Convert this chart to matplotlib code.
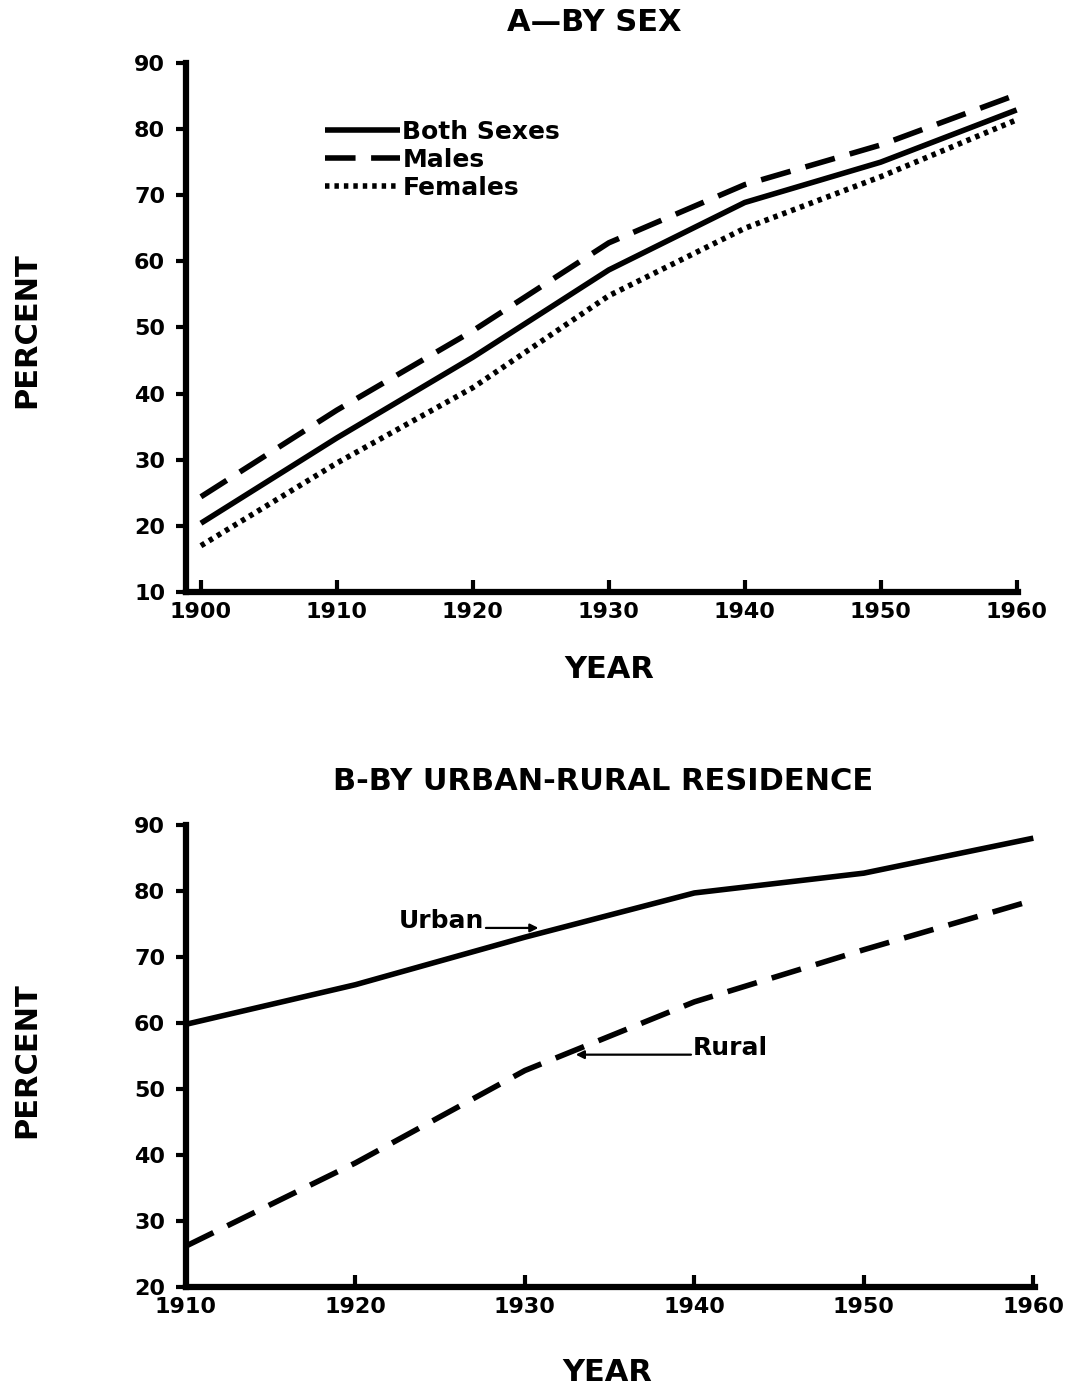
import matplotlib.pyplot as plt

plt.rcParams["font.family"] = ["DejaVu Sans"]

# Panel A - by sex
years_a = [1900, 1910, 1920, 1930, 1940, 1950, 1960]
both_sexes = [20.4, 33.3, 45.5, 58.7, 68.9, 75.0, 82.9]
males = [24.4, 37.5, 49.5, 62.8, 71.6, 77.6, 85.2]
females = [17.0, 29.5, 40.9, 54.8, 65.0, 72.8, 81.4]
yticks_a = [10, 20, 30, 40, 50, 60, 70, 80, 90]

# Panel B - by urban-rural residence
years_b = [1910, 1920, 1930, 1940, 1950, 1960]
urban = [59.8, 65.8, 73.0, 79.7, 82.7, 88.0]
rural = [26.2, 38.8, 52.8, 63.2, 71.1, 78.6]
yticks_b = [20, 30, 40, 50, 60, 70, 80, 90]

LW = 4.0
DASH = (5.5, 2.8)
DOT = (0.8, 0.9)

fig = plt.figure(figsize=(10.7, 13.9), dpi=100)
ax1 = fig.add_axes([0.1738, 0.5741, 0.7776, 0.3806])
ax2 = fig.add_axes([0.1738, 0.0741, 0.7935, 0.3324])


def style_axes(ax):
    for side in ("top", "right"):
        ax.spines[side].set_visible(False)
    for side in ("left", "bottom"):
        ax.spines[side].set_linewidth(4.5)
    ax.tick_params(axis="y", direction="out", length=7, width=3, pad=8,
                   labelsize=16)
    ax.tick_params(axis="x", direction="in", length=9, width=3, pad=7,
                   labelsize=16)
    for lab in ax.get_xticklabels() + ax.get_yticklabels():
        lab.set_fontweight("bold")


ax1.plot(years_a, both_sexes, color="black", lw=LW, solid_capstyle="butt",
         label="Both Sexes")
ax1.plot(years_a, males, color="black", lw=LW, dashes=DASH,
         dash_capstyle="butt", label="Males")
ax1.plot(years_a, females, color="black", lw=LW, dashes=DOT,
         dash_capstyle="butt", label="Females")
ax1.set_xlim(1898.9, 1960.1)
ax1.set_ylim(10, 90)
ax1.set_xticks(years_a)
ax1.set_yticks(yticks_a)
style_axes(ax1)
leg = ax1.legend(loc="upper left", bbox_to_anchor=(0.167, 0.892),
                 frameon=False, fontsize=18, handlelength=3.0,
                 handletextpad=0.1, labelspacing=0.15, borderpad=0,
                 borderaxespad=0)
for t in leg.get_texts():
    t.set_fontweight("bold")

ax2.plot(years_b, urban, color="black", lw=LW, solid_capstyle="butt")
ax2.plot(years_b, rural, color="black", lw=LW, dashes=DASH,
         dash_capstyle="butt")
ax2.set_xlim(1910, 1960.1)
ax2.set_ylim(20, 90)
ax2.set_xticks(years_b)
ax2.set_yticks(yticks_b)
style_axes(ax2)

arrow = dict(arrowstyle="-|>", color="black", lw=1.6, mutation_scale=12,
             shrinkA=0, shrinkB=0)
ax2.text(1927.6, 74.4, "Urban", ha="right", va="baseline", fontsize=18,
         fontweight="semibold")
ax2.annotate("", xy=(1930.8, 74.4), xytext=(1927.7, 74.4), arrowprops=arrow)
ax2.text(1939.9, 55.2, "Rural", ha="left", va="baseline", fontsize=18,
         fontweight="semibold")
ax2.annotate("", xy=(1933.0, 55.2), xytext=(1939.8, 55.2), arrowprops=arrow)

fig.text(0.555, 0.984, "A\u2014BY SEX", ha="center", va="center",
         fontsize=22, fontweight="bold")
fig.text(0.5636, 0.4381, "B-BY URBAN-RURAL RESIDENCE", ha="center",
         va="center", fontsize=22, fontweight="bold")
fig.text(0.025, 0.7626, "PERCENT", rotation=90, ha="center", va="center",
         fontsize=22, fontweight="bold")
fig.text(0.025, 0.2374, "PERCENT", rotation=90, ha="center", va="center",
         fontsize=22, fontweight="bold")
fig.text(0.569, 0.518, "YEAR", ha="center", va="center", fontsize=22,
         fontweight="bold")
fig.text(0.568, 0.0129, "YEAR", ha="center", va="center", fontsize=22,
         fontweight="bold")

fig.savefig("out.png", dpi=100)
